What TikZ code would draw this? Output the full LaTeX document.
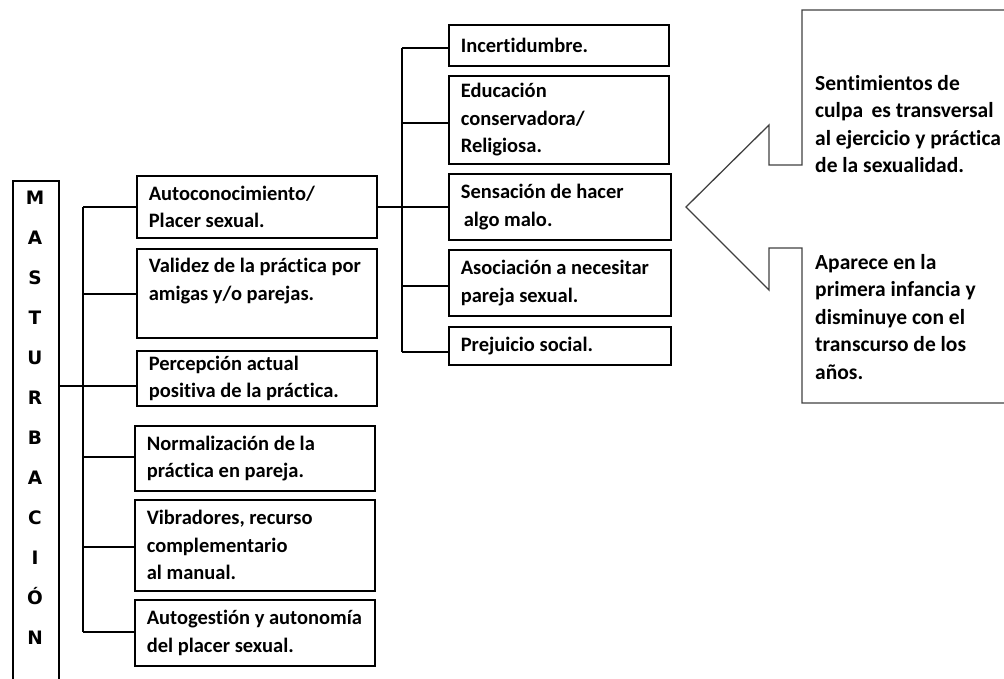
\documentclass[tikz,border=0pt]{standalone}
\usepackage{fontspec}
\setmainfont{Carlito}[Ligatures={NoCommon}]
\newfontfamily\lettersfont{DejaVu Sans}
\begin{document}
\begin{tikzpicture}[x=1pt,y=-1pt,
  txt/.style={font=\fontsize{20.5}{27.5}\selectfont\bfseries},
  ctxt/.style={font=\fontsize{21.5}{27.5}\selectfont\bfseries},
  lbox/.style={draw, line width=1.6pt, rectangle, anchor=north west, inner xsep=12pt, inner ysep=0pt,
     txt, align=flush left, text width=#1, minimum width=#1+24pt},
  lbox/.default=216pt,
  conn/.style={line width=1.5pt},
  callout/.style={line width=1.3pt, draw=black!75, line join=miter}]
\useasboundingbox (0,0) rectangle (1004,679);
% main vertical box
\node[draw, line width=1.6pt, anchor=north west, minimum width=46pt, minimum height=505pt, inner sep=0pt] (mast) at (12,180) {};
\node[font=\lettersfont\fontsize{18.5}{40}\selectfont\bfseries, align=center, inner sep=0pt] (mastxt) at (35,418)
  {M\\A\\S\\T\\U\\R\\B\\A\\C\\I\\Ó\\N};
% left column boxes
\node[lbox, minimum height=62pt] (auto) at (136,175) {Autoconocimiento/\\Placer sexual.};
\node[lbox, minimum height=89pt] (vali) at (136,248) {Validez de la práctica por\\amigas y/o parejas.\\\mbox{}};
\node[lbox, minimum height=55pt] (perc) at (136,350) {Percepción actual\\positiva de la práctica.};
\node[lbox, minimum height=65pt] (norm) at (134,425) {Normalización de la\\práctica en pareja.};
\node[lbox, minimum height=91pt] (vibr) at (134,499) {Vibradores, recurso\\complementario\\al manual.};
\node[lbox, minimum height=66pt] (auge) at (134,599) {Autogestión y autonomía\\del placer sexual.};
% right column boxes
\node[lbox=196pt, minimum height=41pt] (inc) at (448,24) {Incertidumbre.};
\node[lbox=196pt, minimum height=88pt] (educ) at (448,75) {Educación\\conservadora/\\Religiosa.};
\node[lbox=198pt, minimum height=66pt] (sens) at (448,173) {Sensación de hacer\\\hspace*{3pt}algo malo.};
\node[lbox=198pt, minimum height=66pt] (asoc) at (448,249) {Asociación a necesitar\\pareja sexual.};
\node[lbox=198pt, minimum height=38pt] (prej) at (448,326) {Prejuicio social.};
% left connectors
\coordinate (lt) at (83,207);
\coordinate (lb) at (83,632);
\draw[conn] (lt) -- (lb);
\draw[conn] (mast.east |- 0,386) -- (perc.west |- 0,386);
\draw[conn] (lt) -- (auto.west |- lt);
\draw[conn] (83,294) -- (vali.west |- 0,294);
\draw[conn] (83,457) -- (norm.west |- 0,457);
\draw[conn] (83,547) -- (vibr.west |- 0,547);
\draw[conn] (lb) -- (auge.west |- lb);
% right connectors
\coordinate (rt) at (402,48);
\coordinate (rb) at (402,352);
\draw[conn] (rt) -- (rb);
\draw[conn] (auto.east) -- (sens.west |- auto.east);
\draw[conn] (rt) -- (inc.west |- rt);
\draw[conn] (402,123) -- (educ.west |- 0,123);
\draw[conn] (402,286) -- (asoc.west |- 0,286);
\draw[conn] (rb) -- (prej.west |- rb);
% callout
\draw[callout] (1010,10) -- (802,10) -- (802,165) -- (769,165) -- (769,125) -- (686,207)
  -- (769,290) -- (769,248) -- (802,248) -- (802,403) -- (1010,403);
\node[ctxt, align=left, anchor=west, inner sep=0pt] (c1) at (815,124)
  {Sentimientos de\\culpa \,es transversal\\al ejercicio y práctica\\de la sexualidad.};
\node[ctxt, align=left, anchor=west, inner sep=0pt] (c2) at (815,317)
  {Aparece en la\\primera infancia y\\disminuye con el\\transcurso de los\\años.};
\end{tikzpicture}
\end{document}
